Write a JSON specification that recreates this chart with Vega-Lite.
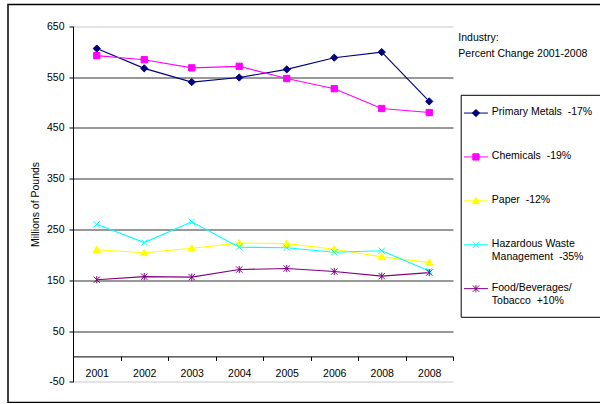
{
  "$schema": "https://vega.github.io/schema/vega-lite/v6.json",
  "autosize": "none",
  "width": 600,
  "height": 398,
  "padding": {"left": 8, "top": 4.5, "right": 0, "bottom": 0},
  "background": "white",
  "config": {
    "font": "Liberation Sans",
    "view": {"stroke": "black", "strokeWidth": 1.5},
    "axis": {"labelFontSize": 10.5, "labelColor": "black", "titleColor": "black", "titleFontSize": 10.5, "titleFontWeight": "normal", "domainColor": "black", "tickColor": "black", "tickSize": 4}
  },
  "title": {
    "text": ["Industry:", "Percent Change 2001-2008"],
    "anchor": "start",
    "frame": "group",
    "baseline": "top",
    "offset": 0,
    "dx": 450.3,
    "dy": 54.5,
    "fontSize": 10.5,
    "fontWeight": "normal",
    "lineHeight": 15.5,
    "color": "black"
  },
  "data": {
    "values": [
      {"series": "Primary Metals \u00a0-17%", "period": "2001", "value": 606},
      {"series": "Primary Metals \u00a0-17%", "period": "2002", "value": 567},
      {"series": "Primary Metals \u00a0-17%", "period": "2003", "value": 540},
      {"series": "Primary Metals \u00a0-17%", "period": "2004", "value": 549},
      {"series": "Primary Metals \u00a0-17%", "period": "2005", "value": 565},
      {"series": "Primary Metals \u00a0-17%", "period": "2006", "value": 588},
      {"series": "Primary Metals \u00a0-17%", "period": "2007", "value": 599},
      {"series": "Primary Metals \u00a0-17%", "period": "2008", "value": 502},
      {"series": "Chemicals \u00a0-19%", "period": "2001", "value": 592},
      {"series": "Chemicals \u00a0-19%", "period": "2002", "value": 584},
      {"series": "Chemicals \u00a0-19%", "period": "2003", "value": 568},
      {"series": "Chemicals \u00a0-19%", "period": "2004", "value": 571},
      {"series": "Chemicals \u00a0-19%", "period": "2005", "value": 547},
      {"series": "Chemicals \u00a0-19%", "period": "2006", "value": 527},
      {"series": "Chemicals \u00a0-19%", "period": "2007", "value": 488},
      {"series": "Chemicals \u00a0-19%", "period": "2008", "value": 480},
      {"series": "Paper \u00a0-12%", "period": "2001", "value": 210},
      {"series": "Paper \u00a0-12%", "period": "2002", "value": 204},
      {"series": "Paper \u00a0-12%", "period": "2003", "value": 213},
      {"series": "Paper \u00a0-12%", "period": "2004", "value": 223},
      {"series": "Paper \u00a0-12%", "period": "2005", "value": 222},
      {"series": "Paper \u00a0-12%", "period": "2006", "value": 211},
      {"series": "Paper \u00a0-12%", "period": "2007", "value": 196},
      {"series": "Paper \u00a0-12%", "period": "2008", "value": 185},
      {"series": "Hazardous Waste Management \u00a0-35%", "period": "2001", "value": 260},
      {"series": "Hazardous Waste Management \u00a0-35%", "period": "2002", "value": 224},
      {"series": "Hazardous Waste Management \u00a0-35%", "period": "2003", "value": 265},
      {"series": "Hazardous Waste Management \u00a0-35%", "period": "2004", "value": 215},
      {"series": "Hazardous Waste Management \u00a0-35%", "period": "2005", "value": 214},
      {"series": "Hazardous Waste Management \u00a0-35%", "period": "2006", "value": 205},
      {"series": "Hazardous Waste Management \u00a0-35%", "period": "2007", "value": 208},
      {"series": "Hazardous Waste Management \u00a0-35%", "period": "2008", "value": 168},
      {"series": "Food/Beverages/ Tobacco \u00a0+10%", "period": "2001", "value": 151},
      {"series": "Food/Beverages/ Tobacco \u00a0+10%", "period": "2002", "value": 157},
      {"series": "Food/Beverages/ Tobacco \u00a0+10%", "period": "2003", "value": 156},
      {"series": "Food/Beverages/ Tobacco \u00a0+10%", "period": "2004", "value": 171},
      {"series": "Food/Beverages/ Tobacco \u00a0+10%", "period": "2005", "value": 173},
      {"series": "Food/Beverages/ Tobacco \u00a0+10%", "period": "2006", "value": 167},
      {"series": "Food/Beverages/ Tobacco \u00a0+10%", "period": "2007", "value": 158},
      {"series": "Food/Beverages/ Tobacco \u00a0+10%", "period": "2008", "value": 165}
    ]
  },
  "encoding": {
    "x": {
      "field": "period",
      "type": "ordinal",
      "sort": ["2001", "2002", "2003", "2004", "2005", "2006", "2007", "2008"],
      "scale": {"type": "band", "range": [65, 445], "paddingInner": 0, "paddingOuter": 0},
      "axis": {
        "orient": "bottom",
        "offset": -46.1,
        "tickBand": "extent",
        "labelExpr": "datum.value == '2007' ? '2008' : datum.value",
        "labelAngle": 0,
        "labelPadding": 8,
        "grid": false,
        "title": null
      }
    },
    "y": {
      "field": "value",
      "type": "quantitative",
      "scale": {"domain": [-50, 650], "range": [377.3, 21.7], "nice": false, "zero": false},
      "axis": {
        "offset": -65,
        "values": [-50, 50, 150, 250, 350, 450, 550, 650],
        "labelExpr": "'' + datum.value",
        "labelPadding": 5,
        "grid": true,
        "gridColor": {"condition": {"test": "datum.value == 650 || datum.value == -50", "value": "#c8c8c8"}, "value": "#333333"},
        "gridWidth": 1,
        "title": "Millions of Pounds",
        "titlePadding": 6
      }
    }
  },
  "layer": [
    {
      "mark": {"type": "line", "strokeWidth": 1.1},
      "encoding": {
        "color": {
          "field": "series",
          "type": "nominal",
          "scale": {
            "domain": ["Primary Metals \u00a0-17%", "Chemicals \u00a0-19%", "Paper \u00a0-12%", "Hazardous Waste Management \u00a0-35%", "Food/Beverages/ Tobacco \u00a0+10%"],
            "range": ["#000080", "#FF00FF", "#FFFF00", "#00FFFF", "#800080"]
          },
          "legend": {
            "orient": "none",
            "legendX": 452.7,
            "legendY": 90.3,
            "title": " ",
            "titleFontSize": 1,
            "titlePadding": 2,
            "strokeColor": "black",
            "fillColor": "white",
            "padding": 10,
            "symbolSize": 36,
            "labelOffset": 10.6,
            "rowPadding": 18.9,
            "gridAlign": "all",
            "labelFontSize": 10.5,
            "labelColor": "black",
            "labelBaseline": "top",
            "labelLimit": 0,
            "labelExpr": "indexof(datum.label, 'Hazardous') == 0 ? ['Hazardous Waste', 'Management \u00a0-35%'] : indexof(datum.label, 'Food') == 0 ? ['Food/Beverages/', 'Tobacco \u00a0+10%'] : datum.label",
            "encode": {
              "symbols": {
                "update": {
                  "shape": {"signal": "indexof(datum.value, 'Primary') == 0 ? 'M-4,0L4,0M0,-1.2L1.2,0L0,1.2L-1.2,0Z' : indexof(datum.value, 'Chem') == 0 ? 'M-4,0L4,0M-1.05,-1.05H1.05V1.05H-1.05Z' : indexof(datum.value, 'Paper') == 0 ? 'M-4,0L4,0M0,-1.2L1.2,0.95L-1.2,0.95Z' : indexof(datum.value, 'Hazard') == 0 ? 'M-4,0L4,0M-1.05,-1.05L1.05,1.05M-1.05,1.05L1.05,-1.05' : 'M-4,0L4,0M-1.05,-1.05L1.05,1.05M-1.05,1.05L1.05,-1.05M0,-1.2L0,1.2'"},
                  "fill": {"scale": "color", "field": "value"},
                  "stroke": {"scale": "color", "field": "value"},
                  "strokeWidth": {"value": 1},
                  "opacity": {"value": 1}
                }
              },
              "labels": {
                "update": {
                  "dy": {"value": -6},
                  "lineHeight": {"value": 13.5}
                }
              }
            }
          }
        }
      }
    },
    {
      "transform": [{"filter": {"field": "series", "equal": "Primary Metals \u00a0-17%"}}],
      "mark": {"type": "point", "shape": "M0,-1.2L1.2,0L0,1.2L-1.2,0Z", "filled": true, "color": "#000080", "stroke": "#000080", "size": 36, "strokeWidth": 1, "opacity": 1}
    },
    {
      "transform": [{"filter": {"field": "series", "equal": "Chemicals \u00a0-19%"}}],
      "mark": {"type": "point", "shape": "M-1.05,-1.05H1.05V1.05H-1.05Z", "filled": true, "color": "#FF00FF", "stroke": "#FF00FF", "size": 36, "strokeWidth": 1, "opacity": 1}
    },
    {
      "transform": [{"filter": {"field": "series", "equal": "Paper \u00a0-12%"}}],
      "mark": {"type": "point", "shape": "M0,-1.2L1.2,0.95L-1.2,0.95Z", "filled": true, "color": "#FFFF00", "stroke": "#FFFF00", "size": 36, "strokeWidth": 1, "opacity": 1}
    },
    {
      "transform": [{"filter": {"field": "series", "equal": "Hazardous Waste Management \u00a0-35%"}}],
      "mark": {"type": "point", "shape": "M-1.05,-1.05L1.05,1.05M-1.05,1.05L1.05,-1.05", "filled": true, "color": "#00FFFF", "stroke": "#00FFFF", "size": 36, "strokeWidth": 1, "opacity": 1}
    },
    {
      "transform": [{"filter": {"field": "series", "equal": "Food/Beverages/ Tobacco \u00a0+10%"}}],
      "mark": {"type": "point", "shape": "M-1.05,-1.05L1.05,1.05M-1.05,1.05L1.05,-1.05M0,-1.2L0,1.2", "filled": true, "color": "#800080", "stroke": "#800080", "size": 36, "strokeWidth": 1, "opacity": 1}
    }
  ]
}
